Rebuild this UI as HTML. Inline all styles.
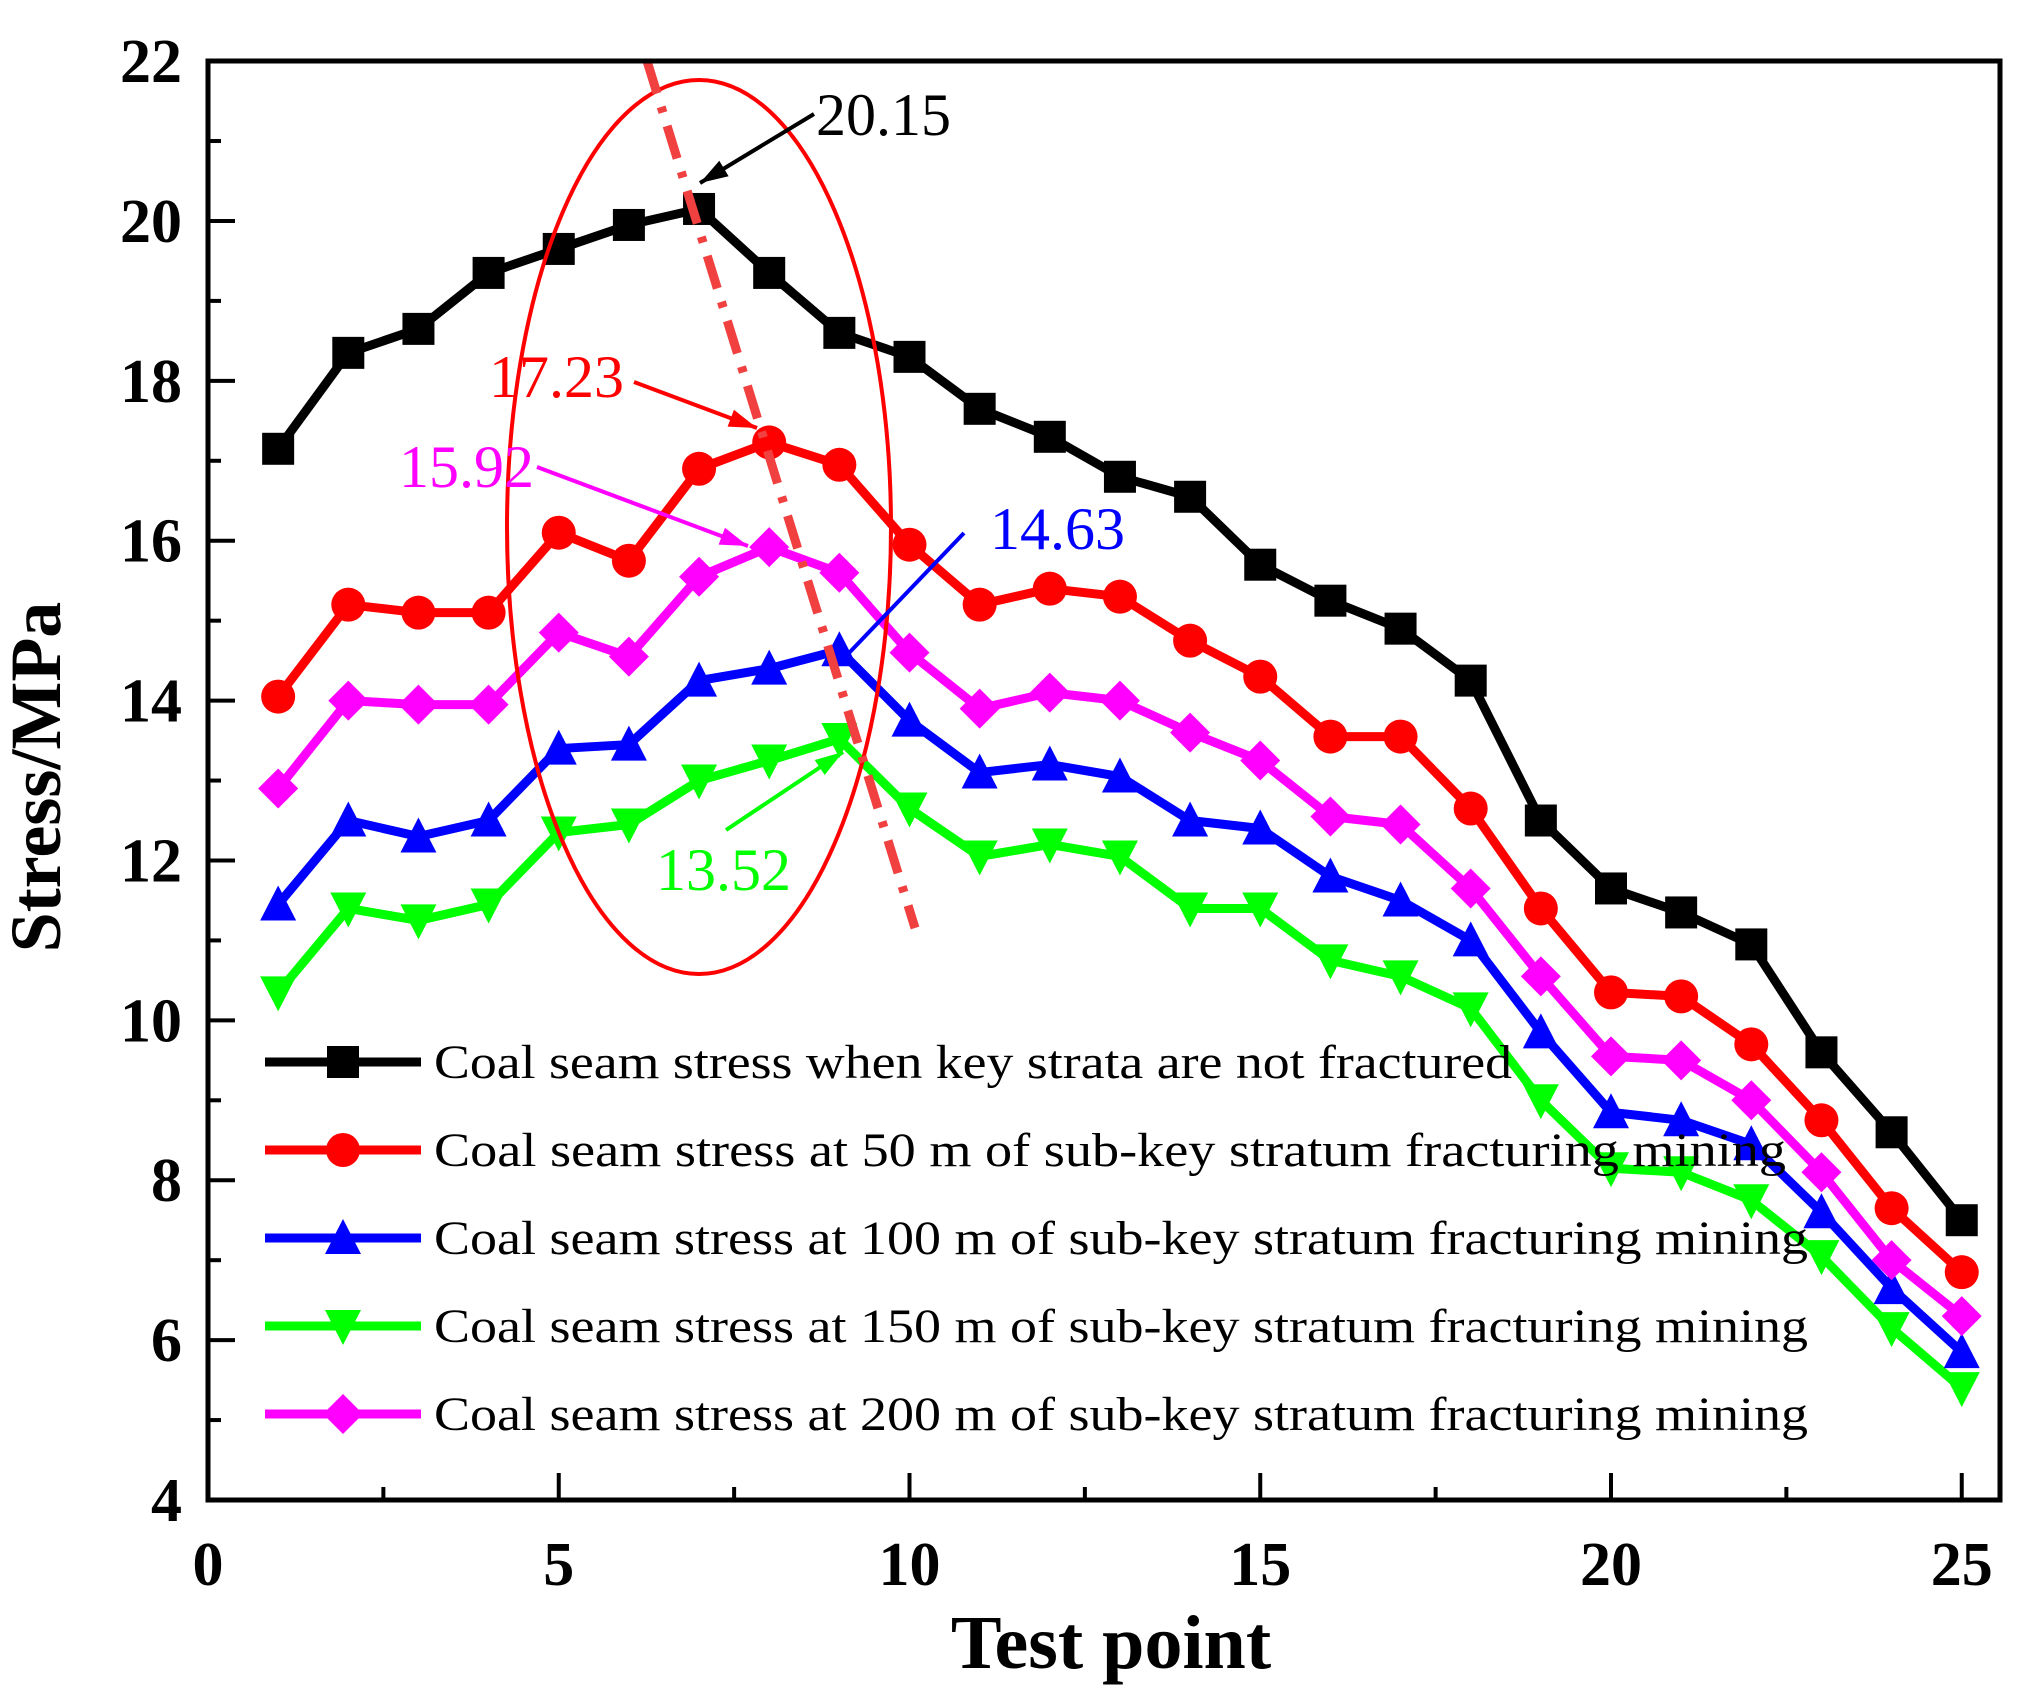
<!DOCTYPE html>
<html><head><meta charset="utf-8"><style>
html,body{margin:0;padding:0;background:#fff;}
svg{display:block;}
</style></head><body>
<svg id="chart" width="2026" height="1699" viewBox="0 0 2026 1699" xmlns="http://www.w3.org/2000/svg" font-family="'Liberation Serif', serif">
<rect x="0" y="0" width="2026" height="1699" fill="#fff"/>
<g id="grid"></g>
<g id="series"></g>
<g id="annot"></g>
<g id="legend"></g>
<rect x="208" y="61" width="1792" height="1439" fill="none" stroke="#000" stroke-width="5"/>
<text x="60" y="777" transform="rotate(-90 60 777)" text-anchor="middle" font-size="72" font-weight="bold">Stress/MPa</text>
<text x="1111" y="1668" text-anchor="middle" font-size="76" font-weight="bold">Test point</text>
</svg>
<script>
const testPoints = [1,2,3,4,5,6,7,8,9,10,11,12,13,14,15,16,17,18,19,20,21,22,23,24,25];
const blackVals = [17.15,18.35,18.65,19.35,19.65,19.95,20.15,19.35,18.6,18.3,17.65,17.3,16.8,16.55,15.7,15.25,14.9,14.25,12.5,11.65,11.35,10.95,9.6,8.6,7.5];
const redVals = [14.05,15.2,15.1,15.1,16.1,15.75,16.9,17.23,16.95,15.95,15.2,15.4,15.3,14.75,14.3,13.55,13.55,12.65,11.4,10.35,10.3,9.7,8.75,7.65,6.85];
const blueVals = [11.45,12.5,12.3,12.5,13.4,13.45,14.25,14.4,14.63,13.75,13.1,13.2,13.05,12.5,12.4,11.8,11.5,11.0,9.85,8.85,8.75,8.45,7.6,6.65,5.85];
const greenVals = [10.35,11.4,11.25,11.45,12.35,12.45,13.0,13.25,13.52,12.65,12.05,12.2,12.05,11.4,11.4,10.75,10.55,10.15,9.0,8.15,8.1,7.75,7.05,6.15,5.4];
const magentaVals = [12.9,14.0,13.95,13.95,14.85,14.55,15.55,15.92,15.6,14.6,13.9,14.1,14.0,13.6,13.25,12.55,12.45,11.65,10.55,9.55,9.5,9.0,8.1,7.0,6.3];
const xTicks = [0,5,10,15,20,25];
const yTicks = [4,6,8,10,12,14,16,18,20,22];
const legendLabels = [
 "Coal seam stress when key strata are not fractured",
 "Coal seam stress at 50 m of sub-key stratum fracturing mining",
 "Coal seam stress at 100 m of sub-key stratum fracturing mining",
 "Coal seam stress at 150 m of sub-key stratum fracturing mining",
 "Coal seam stress at 200 m of sub-key stratum fracturing mining"];

const NS="http://www.w3.org/2000/svg";
function X(v){return 208+v*70.15;}
function Y(v){return 1500-(v-4)*79.94;}
function mk(tag,attrs,parent){const e=document.createElementNS(NS,tag);for(const k in attrs)e.setAttribute(k,attrs[k]);parent.appendChild(e);return e;}
const grid=document.getElementById('grid'), ser=document.getElementById('series'), ann=document.getElementById('annot'), leg=document.getElementById('legend');

for(let i=0;i<xTicks.length;i++){
 const v=xTicks[i];
 const t=mk('line',{x1:X(v),x2:X(v),y1:1500,y2:1473,stroke:'#000','stroke-width':4},grid);
 
 
 if(i<xTicks.length-1){const m=mk('line',{x1:X(v+2.5),x2:X(v+2.5),y1:1500,y2:1487,stroke:'#000','stroke-width':4},grid);
 
 }
 const l=mk('text',{x:X(v),y:1585,'text-anchor':'middle','font-size':62,'font-weight':'bold'},grid);l.textContent=v;
 
 
}
for(let i=0;i<yTicks.length;i++){
 const v=yTicks[i];
 const t=mk('line',{x1:208,x2:235,y1:Y(v),y2:Y(v),stroke:'#000','stroke-width':4},grid);
 
 
 if(i<yTicks.length-1){const m=mk('line',{x1:208,x2:221,y1:Y(v+1),y2:Y(v+1),stroke:'#000','stroke-width':4},grid);
 
 }
 const l=mk('text',{x:182,y:Y(v)+21,'text-anchor':'end','font-size':62,'font-weight':'bold'},grid);l.textContent=v;
 
 
}

function marker(type,cx,cy,color,parent){
 const s=16;let e;
 if(type==='square')e=mk('rect',{x:cx-s,y:cy-s,width:2*s,height:2*s,fill:color},parent);
 else if(type==='circle')e=mk('circle',{cx:cx,cy:cy,r:s+1,fill:color},parent);
 else if(type==='up')e=mk('polygon',{points:`${cx},${cy-s-3} ${cx+s+2},${cy+s} ${cx-s-2},${cy+s}`,fill:color},parent);
 else if(type==='down')e=mk('polygon',{points:`${cx},${cy+s+3} ${cx+s+2},${cy-s} ${cx-s-2},${cy-s}`,fill:color},parent);
 else e=mk('polygon',{points:`${cx},${cy-s-4} ${cx+s+4},${cy} ${cx},${cy+s+4} ${cx-s-4},${cy}`,fill:color},parent);
 return e;
}
const seriesList=[
 {vals:blackVals,color:'#000',m:'square',name:'series-unfractured'},
 {vals:redVals,color:'#ff0000',m:'circle',name:'series-50m'},
 {vals:blueVals,color:'#0000ff',m:'up',name:'series-100m'},
 {vals:greenVals,color:'#00ff00',m:'down',name:'series-150m'},
 {vals:magentaVals,color:'#ff00ff',m:'diamond',name:'series-200m'}];
const drawOrder=[3,2,4,1,0];
drawOrder.forEach(idx=>{
 const s=seriesList[idx];
 const g=mk('g',{},ser);
 
 
 const pts=testPoints.map((p,i)=>X(p)+','+Y(s.vals[i])).join(' ');
 const pl=mk('polyline',{points:pts,fill:'none',stroke:s.color,'stroke-width':9,'stroke-linejoin':'round'},g);
 
 
 testPoints.forEach((p,i)=>{const e=marker(s.m,X(p),Y(s.vals[i]),s.color,g);
  
  });
});

const el=mk('ellipse',{cx:699,cy:527,rx:192,ry:447,fill:'none',stroke:'#ff0000','stroke-width':4},ann);


const dl=mk('line',{x1:647,y1:61,x2:915,y2:928,stroke:'#f04040','stroke-width':9,'stroke-dasharray':'34 14 6 14'},ann);


function arrow(c,color,head,name){
 const g=mk('g',{},ann);
 
 
 mk('line',{x1:c[0],y1:c[1],x2:c[2],y2:c[3],stroke:color,'stroke-width':4},g);
 if(head){const a=Math.atan2(c[3]-c[1],c[2]-c[0]),L=28,W=9;
  const bx=c[2]-L*Math.cos(a),by=c[3]-L*Math.sin(a);
  mk('polygon',{points:`${c[2]},${c[3]} ${bx+W*Math.sin(a)},${by-W*Math.cos(a)} ${bx-W*Math.sin(a)},${by+W*Math.cos(a)}`,fill:color},g);}
}
function label(x,y,t,color,name){const e=mk('text',{x:x,y:y,'font-size':60,fill:color},ann);e.textContent=t;
 
 }
arrow([814,114,700,183],'#000',true,'peak-arrow-black');
label(816,135,'20.15','#000','peak-label-black');
arrow([634,382,757,428],'#ff0000',true,'peak-arrow-red');
label(489,397,'17.23','#ff0000','peak-label-red');
arrow([537,467,748,546],'#ff00ff',true,'peak-arrow-magenta');
label(399,487,'15.92','#ff00ff','peak-label-magenta');
arrow([964,533,848,654],'#0000ff',false,'peak-arrow-blue');
label(990,549,'14.63','#0000ff','peak-label-blue');
arrow([726,830,843,752],'#00ff00',true,'peak-arrow-green');
label(656,890,'13.52','#00ff00','peak-label-green');

const cols=['#000','#ff0000','#0000ff','#00ff00','#ff00ff'];
const ms=['square','circle','up','down','diamond'];
const ys=[1062,1150,1238,1326,1414];
const lens=[1078,1352,1374,1374,1374];
legendLabels.forEach((t,i)=>{
 const g=mk('g',{},leg);
 
 
 mk('line',{x1:265,x2:421,y1:ys[i],y2:ys[i],stroke:cols[i],'stroke-width':9},g);
 marker(ms[i],343,ys[i],cols[i],g);
 const tx=mk('text',{x:434,y:ys[i]+16,'font-size':48,textLength:lens[i],lengthAdjust:'spacingAndGlyphs'},g);
 tx.textContent=t;
});
</script>
</body></html>
